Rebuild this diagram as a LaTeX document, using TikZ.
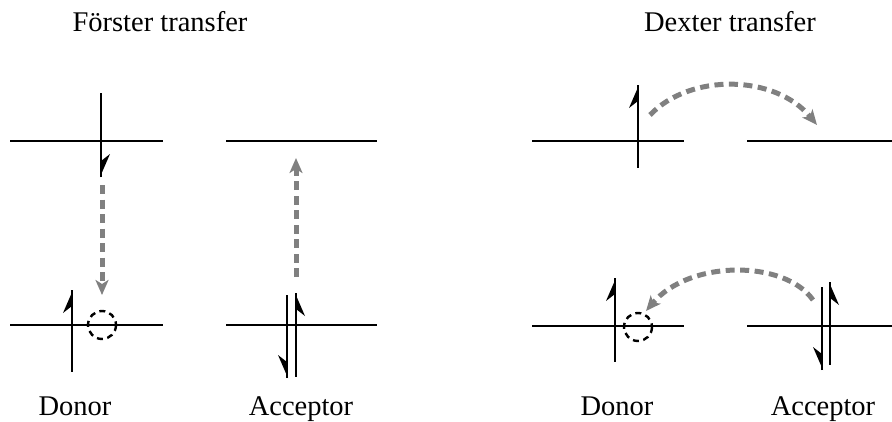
\documentclass[tikz,border=0pt]{standalone}
\usepackage{fontspec}
\setmainfont{Liberation Serif}
\usetikzlibrary{arrows.meta}
\definecolor{arrgray}{RGB}{128,128,128}
\tikzset{
  level/.style={line width=2.3pt, black},
  spinline/.style={line width=2.3pt, black},
  hole/.style={line width=2.4pt, black, dash pattern=on 6pt off 4.5pt},
  transfer/.style={line width=5pt, arrgray, dash pattern=on 9pt off 5.5pt,
    -{Stealth[length=15pt,width=13pt,inset=4pt]}},
  lbl/.style={font=\fontsize{28.5}{30}\selectfont, anchor=base, inner sep=0pt}
}
% spin with half head: #1 x, #2 tip y, #3 tail y, #4 side (+1 right, -1 left), #5 head direction (+1 head at top, -1 at bottom)
\newcommand\spinHarp[5]{%
  \draw[spinline] (#1,#2) -- (#1,#3);
  \fill ({#1-#4*1},#2) -- ({#1+#4*9},{#2+#5*23}) -- (#1,{#2+#5*16}) -- cycle;
}
\begin{document}
\begin{tikzpicture}[x=1pt,y=-1pt]
\useasboundingbox (0,0) rectangle (892,421);

% titles
\node[lbl] (tF) at (160,31) {Förster transfer};
\node[lbl] (tD) at (730,31) {Dexter transfer};
% labels
\node[lbl] (dF) at (75,415) {Donor};
\node[lbl] (aF) at (301,415) {Acceptor};
\node[lbl] (dD) at (617,415) {Donor};
\node[lbl] (aD) at (823,415) {Acceptor};

% energy levels
\coordinate (FdT1) at (10,141);  \coordinate (FdT2) at (163,141);
\coordinate (FaT1) at (226,141); \coordinate (FaT2) at (377,141);
\coordinate (FdB1) at (10,325);  \coordinate (FdB2) at (163,325);
\coordinate (FaB1) at (226,325); \coordinate (FaB2) at (377,325);
\coordinate (DdT1) at (532,141); \coordinate (DdT2) at (684,141);
\coordinate (DaT1) at (747,141); \coordinate (DaT2) at (892,141);
\coordinate (DdB1) at (532,326); \coordinate (DdB2) at (684,326);
\coordinate (DaB1) at (747,326); \coordinate (DaB2) at (892,326);
\foreach \a/\b in {FdT1/FdT2,FaT1/FaT2,FdB1/FdB2,FaB1/FaB2,DdT1/DdT2,DaT1/DaT2,DdB1/DdB2,DaB1/DaB2}
  \draw[level] (\a) -- (\b);

% spins (Förster)
\spinHarp{101}{177}{93}{1}{-1}
\spinHarp{72}{290}{372}{-1}{1}
\spinHarp{287}{378}{295}{-1}{-1}
\spinHarp{296}{293}{377}{1}{1}
% spins (Dexter)
\spinHarp{638}{85}{168}{-1}{1}
\spinHarp{615}{278}{362}{-1}{1}
\spinHarp{822}{370}{287}{-1}{-1}
\spinHarp{830}{282}{365}{1}{1}

% holes
\node[draw=none, circle, minimum size=28pt, inner sep=0pt] (hF) at (102,325) {};
\draw[hole] (hF.center) circle (14);
\node[draw=none, circle, minimum size=28pt, inner sep=0pt] (hD) at (638,327) {};
\draw[hole] (hD.center) circle (14);

% transfer arrows
\coordinate (f1s) at (102,185); \coordinate (f1e) at (102,295);
\coordinate (f2s) at (296,277); \coordinate (f2e) at (296,158);
\draw[transfer] (f1s) -- (f1e);
\draw[transfer] (f2s) -- (f2e);
\coordinate (d1s) at (650,115); \coordinate (d1e) at (817,125);
\draw[transfer] (d1s) .. controls (690,73) and (775,74) .. (d1e);
\coordinate (d2s) at (813,300); \coordinate (d2e) at (646,311);
\draw[transfer] (d2s) .. controls (785,260) and (690,259) .. (d2e);
\end{tikzpicture}
\end{document}
